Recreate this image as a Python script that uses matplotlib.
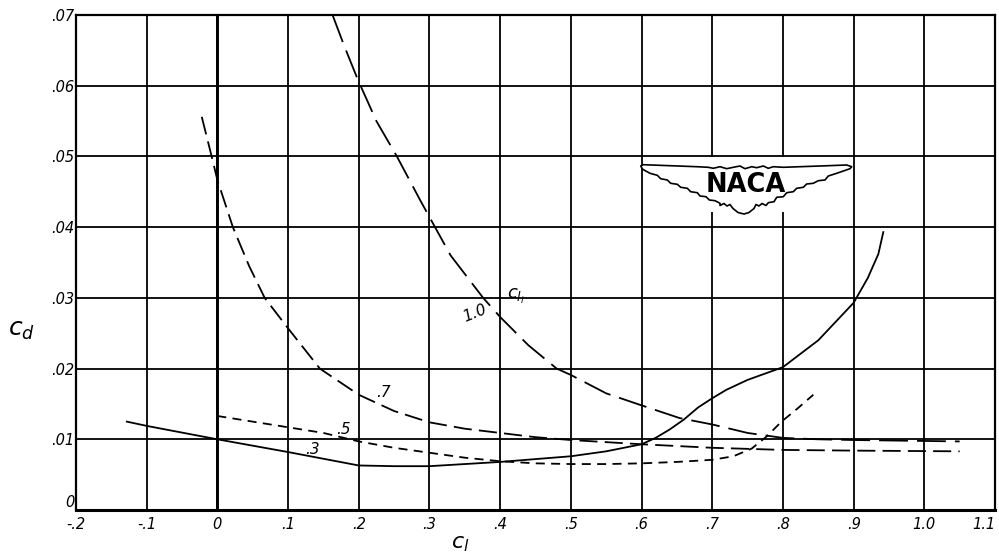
import numpy as np
import matplotlib
matplotlib.use("Agg")
import matplotlib.pyplot as plt
from matplotlib.patches import Polygon, Rectangle

# Section drag coefficient vs. section lift coefficient, four design lift coefficients
cl_03 = [-0.128, -0.1, 0.0, 0.1, 0.2, 0.25, 0.3, 0.4, 0.5, 0.55, 0.6, 0.62, 0.64,
         0.66, 0.68, 0.7, 0.72, 0.75, 0.8, 0.85, 0.9, 0.92, 0.935, 0.942]
cd_03 = [0.0125, 0.0119, 0.0100, 0.0082, 0.0063, 0.0062, 0.0062, 0.0068, 0.0076, 0.0083,
         0.0093, 0.0102, 0.0114, 0.0128, 0.0145, 0.0158, 0.0170, 0.0184, 0.0202, 0.0240,
         0.0293, 0.0328, 0.0362, 0.0393]

cl_05 = [0.0, 0.05, 0.1, 0.15, 0.2, 0.25, 0.3, 0.35, 0.4, 0.45, 0.5, 0.55, 0.6, 0.65,
         0.7, 0.73, 0.756, 0.777, 0.798, 0.82, 0.843]
cd_05 = [0.0133, 0.0125, 0.0117, 0.0109, 0.0097, 0.0088, 0.0081, 0.0074, 0.0069, 0.0066,
         0.0065, 0.0065, 0.0066, 0.0068, 0.0071, 0.0076, 0.0087, 0.0104, 0.0125, 0.0143,
         0.0163]

cl_07 = [-0.022, -0.008, 0.0, 0.022, 0.045, 0.067, 0.1, 0.145, 0.2, 0.25, 0.3, 0.35,
         0.4, 0.45, 0.5, 0.55, 0.6, 0.7, 0.8, 0.9, 1.05]
cd_07 = [0.0556, 0.0500, 0.0467, 0.0400, 0.0345, 0.0300, 0.0257, 0.0200, 0.0163, 0.0140,
         0.0124, 0.0115, 0.0109, 0.0103, 0.0099, 0.0096, 0.0093, 0.0088, 0.0085, 0.0084,
         0.0083]

cl_10 = [0.163, 0.18, 0.199, 0.225, 0.254, 0.287, 0.33, 0.376, 0.4, 0.44, 0.48, 0.5,
         0.55, 0.6, 0.654, 0.7, 0.75, 0.8, 0.85, 0.9, 1.05]
cd_10 = [0.0700, 0.0655, 0.0608, 0.0550, 0.0500, 0.0438, 0.0360, 0.0300, 0.0273, 0.0233,
         0.0200, 0.0191, 0.0165, 0.0148, 0.0130, 0.0121, 0.0109, 0.0102, 0.0100, 0.0099,
         0.0097]

x_ticks = [-0.2, -0.1, 0.0, 0.1, 0.2, 0.3, 0.4, 0.5, 0.6, 0.7, 0.8, 0.9, 1.0, 1.1]
x_tick_labels = ["-.2", "-.1", "0", ".1", ".2", ".3", ".4", ".5", ".6", ".7", ".8", ".9",
                 "1.0", "1.1"]
y_ticks = [0.0, 0.01, 0.02, 0.03, 0.04, 0.05, 0.06, 0.07]
y_tick_labels = ["0", ".01", ".02", ".03", ".04", ".05", ".06", ".07"]

fig = plt.figure(figsize=(9.99, 5.56), dpi=100)
ax = fig.add_axes([0.076, 0.0827, 0.92, 0.8903])
ax.set_xlim(-0.2, 1.1)
ax.set_ylim(0.0, 0.07)

ax.set_xticks(x_ticks)
ax.set_xticklabels(x_tick_labels, fontsize=10.5, style="italic")
ax.set_yticks(y_ticks)
ax.set_yticklabels(y_tick_labels, fontsize=10.5, style="italic")
ax.tick_params(axis="both", length=0, colors="black")
ax.tick_params(axis="x", pad=5)
ax.tick_params(axis="y", pad=1)
# corner labels: "0" sits a little above the axis, "1.1" tucks in at the right edge
ax.get_yticklabels()[0].set_va("bottom")
ax.get_xticklabels()[-1].set_ha("right")
ax.grid(True, color="black", linewidth=1.3)
ax.set_axisbelow(True)
ax.axvline(0.0, color="black", linewidth=2.1, zorder=1)
for side in ax.spines.values():
    side.set_linewidth(1.6)
ax.spines["bottom"].set_linewidth(2.2)

lw = 1.3
ax.plot(cl_03, cd_03, color="black", linewidth=lw, zorder=3)
ax.plot(cl_05, cd_05, color="black", linewidth=lw, linestyle=(0, (5, 3.5)), zorder=3)
ax.plot(cl_07, cd_07, color="black", linewidth=lw, linestyle=(0, (10, 4)), zorder=3)
ax.plot(cl_10, cd_10, color="black", linewidth=lw, linestyle=(0, (16, 5)), zorder=3)

lab = dict(fontsize=11, style="italic", color="black", zorder=4)
ax.text(0.135, 0.0085, ".3", ha="center", va="center", **lab)
ax.text(0.178, 0.0114, ".5", ha="center", va="center", **lab)
ax.text(0.235, 0.0166, ".7", ha="center", va="center", **lab)
ax.text(0.364, 0.0278, "1.0", ha="center", va="center", rotation=22, **lab)
ax.text(0.422, 0.0302, r"$c_{l_i}$", ha="center", va="center", fontsize=13, zorder=4)

ax.text(-0.059, 0.364, r"$c_d$", transform=ax.transAxes, ha="center", va="center",
        fontsize=18)
ax.text(0.418, -0.068, r"$c_l$", transform=ax.transAxes, ha="center", va="center",
        fontsize=16)

# white patch behind the emblem so the grid breaks around it
ax.add_patch(Rectangle((0.602, 0.0421), 0.296, 0.0078, facecolor="white",
                       edgecolor="none", zorder=2))

# NACA wing emblem (local pixel-like units, y downward)
wing = [
    (2.7, 4.0), (5.3, 2.7), (32.0, 3.7), (58.7, 4.7), (70.3, 5.3), (75.3, 6.3),
    (82.0, 4.7), (88.7, 6.7), (95.3, 5.3), (102.0, 4.0), (107.0, 6.7), (113.7, 4.7),
    (118.7, 5.7), (125.3, 4.0), (130.3, 6.3), (135.3, 4.7), (145.3, 5.3), (182.0, 4.0),
    (208.7, 3.0), (213.7, 4.7),
    (212.0, 6.7), (198.7, 11.3), (190.3, 14.0), (187.0, 18.0), (180.3, 18.7),
    (175.3, 21.3), (168.7, 22.0), (165.3, 25.3), (158.7, 26.3), (155.3, 29.7),
    (148.7, 30.7), (145.3, 34.7), (138.7, 35.3), (136.0, 39.7), (130.3, 40.7),
    (128.0, 43.5), (124.0, 41.5), (121.0, 44.0), (118.0, 42.5),
    (116.0, 46.5), (111.0, 50.5), (106.0, 52.0), (100.0, 50.5), (95.0, 46.5),
    (92.0, 42.5), (89.0, 44.0), (86.0, 41.5), (82.0, 43.5), (82.0, 41.3),
    (77.0, 38.7), (71.3, 38.0), (68.0, 34.7), (62.0, 34.0), (59.3, 30.7),
    (52.7, 29.7), (49.3, 26.3), (42.7, 25.3), (39.3, 22.3), (32.7, 21.3),
    (29.3, 18.0), (22.7, 16.7), (19.3, 13.3), (12.0, 11.3), (4.7, 7.3),
]
emb = fig.add_axes([638 / 999, (556 - 218) / 556, 217 / 999, 56 / 556])
emb.set_xlim(0, 217)
emb.set_ylim(56, 0)
emb.axis("off")
emb.patch.set_alpha(0)
emb.add_patch(Polygon(wing, closed=True, facecolor="white", edgecolor="black",
                      linewidth=1.2, joinstyle="round"))
emb.text(108, 23.5, "NACA", ha="center", va="center", fontsize=18.5,
         fontweight="bold", color="black")

fig.savefig("out.png", dpi=100)
